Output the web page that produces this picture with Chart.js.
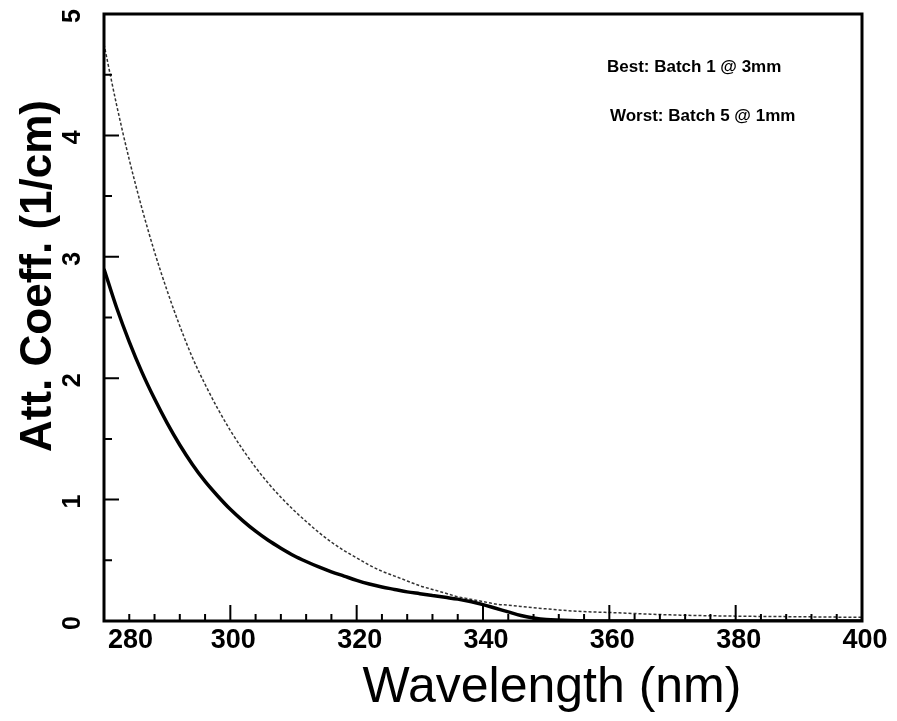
<!DOCTYPE html>
<html>
<head>
<meta charset="utf-8">
<script src="https://cdn.jsdelivr.net/npm/chart.js@4/dist/chart.umd.min.js"></script>
<style>
  html, body { margin: 0; padding: 0; background: #fff; }
  #attChart { display: block; }
</style>
</head>
<body>
<canvas id="attChart" width="897" height="721"></canvas>
<script>
// values
const wavelengthNm = [280, 282, 284, 286, 288, 290, 292, 294, 296, 298, 300, 302, 304, 306, 308, 310,
    312, 314, 316, 318, 320, 322, 324, 326, 328, 330, 332, 334, 336, 338, 340, 342, 344, 346, 348, 350,
    355, 360, 370, 380, 390, 400];
const bestBatch1 = [2.9, 2.58, 2.3, 2.05, 1.83, 1.63, 1.45, 1.29, 1.15, 1.03, 0.92, 0.825, 0.74, 0.665, 0.6, 0.54,
    0.49, 0.445, 0.405, 0.37, 0.335, 0.305, 0.28, 0.26, 0.24, 0.225, 0.21, 0.195, 0.18, 0.16, 0.135, 0.105, 0.075, 0.045, 0.025, 0.012,
    0.003, 0, 0, 0, 0, 0];
const worstBatch5 = [4.75, 4.25, 3.8, 3.4, 3.04, 2.72, 2.43, 2.17, 1.95, 1.75, 1.57, 1.41, 1.265, 1.135, 1.02, 0.915,
    0.82, 0.73, 0.65, 0.58, 0.52, 0.46, 0.41, 0.37, 0.33, 0.29, 0.26, 0.23, 0.2, 0.18, 0.16, 0.14, 0.13, 0.12, 0.11, 0.1,
    0.08, 0.07, 0.05, 0.04, 0.035, 0.03];
const xTicks = [280, 300, 320, 340, 360, 380, 400];
const yTicks = [0, 1, 2, 3, 4, 5];
const seriesLabels = ['Best: Batch 1 @ 3mm', 'Worst: Batch 5 @ 1mm'];
const xTitle = 'Wavelength (nm)';
const yTitle = 'Att. Coeff. (1/cm)';

const FONT = '"Liberation Sans", Arial, sans-serif';

function toPoints(values) {
    return wavelengthNm.map((w, i) => ({ x: w, y: values[i] }));
}

// frame, inward ticks, rotated y labels, axis titles and the text legend
const framePlugin = {
    id: 'frame',
    afterDraw(chart) {
        const ctx = chart.ctx;
        const a = chart.chartArea;
        const xs = chart.scales.x;
        const ys = chart.scales.y;
        ctx.save();
        ctx.strokeStyle = '#000';
        ctx.lineWidth = 3;
        ctx.strokeRect(a.left, a.top, a.right - a.left, a.bottom - a.top);

        ctx.lineWidth = 2;
        ctx.beginPath();
        for (let v = xs.min; v <= xs.max; v += 4) {
            const px = xs.getPixelForValue(v);
            const len = (v % 20 === 0) ? 16 : 7;
            ctx.moveTo(px, a.bottom);
            ctx.lineTo(px, a.bottom - len);
        }
        for (let v = ys.min; v <= ys.max; v += 0.5) {
            const py = ys.getPixelForValue(v);
            const len = (v % 1 === 0) ? 15 : 8;
            ctx.moveTo(a.left, py);
            ctx.lineTo(a.left + len, py);
        }
        ctx.stroke();

        ctx.fillStyle = '#000';
        ctx.font = 'bold 27px ' + FONT;
        ctx.textBaseline = 'middle';
        xTicks.forEach((v, i) => {
            const px = xs.getPixelForValue(v);
            if (i === 0) {
                ctx.textAlign = 'left';
                ctx.fillText(String(v), px + 4, a.bottom + 20);
            } else {
                ctx.textAlign = 'center';
                ctx.fillText(String(v), px + 3, a.bottom + 20);
            }
        });

        ctx.font = 'bold 25px ' + FONT;
        ctx.textAlign = 'center';
        yTicks.forEach(v => {
            const py = ys.getPixelForValue(v);
            ctx.save();
            ctx.translate(a.left - 31, py + 2);
            ctx.rotate(-Math.PI / 2);
            ctx.fillText(String(v), 0, 0);
            ctx.restore();
        });

        // axis titles
        ctx.font = 'bold 44px ' + FONT;
        ctx.save();
        ctx.translate(39, 276);
        ctx.rotate(-Math.PI / 2);
        ctx.fillText(yTitle, 0, 0);
        ctx.restore();

        ctx.font = '50px ' + FONT;
        ctx.textBaseline = 'alphabetic';
        ctx.fillText(xTitle, 552, 702);

        ctx.font = 'bold 17px ' + FONT;
        ctx.textAlign = 'left';
        ctx.textBaseline = 'middle';
        ctx.fillText(seriesLabels[0], 607, 67);
        ctx.fillText(seriesLabels[1], 610, 116);
        ctx.restore();
    }
};

new Chart(document.getElementById('attChart'), {
    type: 'line',
    data: {
        datasets: [
            {
                label: seriesLabels[0],
                data: toPoints(bestBatch1),
                borderColor: '#000',
                borderWidth: 3.5,
                pointRadius: 0,
                cubicInterpolationMode: 'monotone',
                fill: false
            },
            {
                label: seriesLabels[1],
                data: toPoints(worstBatch5),
                borderColor: '#333',
                borderWidth: 1.5,
                borderDash: [3, 2],
                pointRadius: 0,
                cubicInterpolationMode: 'monotone',
                fill: false
            }
        ]
    },
    options: {
        responsive: false,
        animation: false,
        devicePixelRatio: 1,
        layout: { padding: { top: 14, right: 35, left: 104, bottom: 100 } },
        plugins: {
            legend: { display: false },
            tooltip: { enabled: false }
        },
        scales: {
            x: {
                type: 'linear',
                min: 280,
                max: 400,
                grid: { display: false, drawTicks: false },
                border: { display: false },
                ticks: { display: false }
            },
            y: {
                min: 0,
                max: 5,
                grid: { display: false, drawTicks: false },
                border: { display: false },
                ticks: { display: false }
            }
        }
    },
    plugins: [framePlugin]
});
</script>
</body>
</html>
